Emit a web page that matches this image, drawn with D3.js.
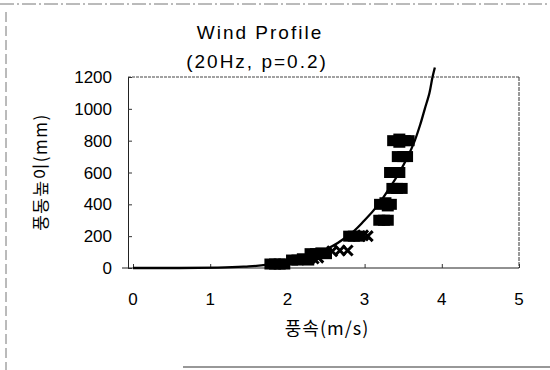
<!DOCTYPE html>
<html>
<head>
<meta charset="utf-8">
<script src="https://cdn.jsdelivr.net/npm/d3@7"></script>
<style>
  body { margin: 0; background: #fff; }
  text { font-family: "Liberation Sans", Arial, sans-serif; fill: #000; }
  .kr { font-family: "Noto Sans CJK KR", "Liberation Sans", sans-serif; }
</style>
</head>
<body>
<svg id="chart" width="550" height="370"></svg>
<script>
// tick values
var xTicks = [0, 1, 2, 3, 4, 5];
var yTicks = [0, 200, 400, 600, 800, 1000, 1200];

// measured points, square markers  [speed m/s, height mm]
var squarePts = [
  [1.78, 25], [1.84, 25], [1.90, 25], [1.96, 25],
  [2.06, 50], [2.13, 50], [2.20, 58], [2.27, 50],
  [2.30, 90], [2.37, 90], [2.44, 95], [2.50, 90],
  [2.80, 200], [2.86, 200], [2.93, 200],
  [3.19, 300], [3.25, 300], [3.30, 300],
  [3.20, 400], [3.27, 410], [3.34, 400], [3.30, 390],
  [3.36, 500], [3.42, 500], [3.48, 500],
  [3.33, 600], [3.39, 600], [3.45, 600],
  [3.43, 700], [3.50, 700], [3.55, 700],
  [3.37, 800], [3.45, 810], [3.52, 800], [3.57, 800], [3.45, 790]
];

// measured points, cross markers
var crossPts = [
  [2.58, 105], [2.68, 110], [2.78, 110],
  [2.98, 205], [3.04, 200],
  [2.34, 60], [2.40, 65]
];

// power law fit line (p=0.2)
var fitU = [0.00, 0.60, 1.10, 1.50, 1.80, 2.10, 2.42, 2.78, 3.00, 3.18, 3.32, 3.45, 3.56, 3.65, 3.72, 3.78, 3.84, 3.88, 3.91];
var fitZ = [0,    0.1,  2,    10,   25,   50,   100,  200,  300,  400,  500,  600,  700,  800,  900,  1000, 1100, 1200, 1260];

var svg = d3.select("#chart");

var x = d3.scaleLinear().domain([0, 5]).range([133, 519]);
var y = d3.scaleLinear().domain([0, 1200]).range([268, 77]);

// scanned page border
svg.append("line").attr("x1", 0).attr("x2", 550).attr("y1", 4).attr("y2", 4)
    .attr("stroke", "#777").attr("stroke-dasharray", "14,3,2,3");
svg.append("line").attr("x1", 6).attr("x2", 6).attr("y1", 12).attr("y2", 370)
    .attr("stroke", "#777").attr("stroke-dasharray", "10,4");
svg.append("line").attr("x1", 183).attr("x2", 550).attr("y1", 367).attr("y2", 367)
    .attr("stroke", "#333").attr("stroke-width", 1.2);

// plot frame
svg.append("line").attr("x1", 128).attr("x2", 519).attr("y1", 77).attr("y2", 77)
    .attr("stroke", "#444").attr("stroke-dasharray", "3,1");
svg.append("line").attr("x1", 519).attr("x2", 519).attr("y1", 77).attr("y2", 268)
    .attr("stroke", "#333").attr("stroke-dasharray", "4,1");

// y axis
var yAxis = svg.append("g").attr("transform", "translate(128,0)")
    .call(d3.axisRight(y).tickValues(yTicks).tickSize(4).tickFormat(""));
yAxis.select(".domain").attr("stroke", "#222");
yAxis.selectAll(".tick line").attr("stroke", "#333");

svg.selectAll(".ylab").data(yTicks).enter().append("text")
    .attr("class", "ylab")
    .attr("x", 112).attr("y", function (d) { return y(d) + 6; })
    .attr("text-anchor", "end").attr("font-size", 17)
    .text(function (d) { return d; });

// x axis
var xAxis = svg.append("g").attr("transform", "translate(0,268)")
    .call(d3.axisTop(x).tickValues(xTicks).tickSize(4).tickFormat(""));
xAxis.select(".domain").attr("stroke", "#222").attr("d", "M122,0H519");
xAxis.selectAll(".tick line").attr("stroke", "#333");

svg.selectAll(".xlab").data(xTicks).enter().append("text")
    .attr("class", "xlab")
    .attr("x", function (d) { return x(d); }).attr("y", 305)
    .attr("text-anchor", "middle").attr("font-size", 17)
    .text(function (d) { return d; });

// titles
svg.append("text").attr("x", 260).attr("y", 39)
    .attr("text-anchor", "middle").attr("font-size", 19).attr("letter-spacing", 2)
    .text("Wind  Profile");
svg.append("text").attr("x", 257).attr("y", 68)
    .attr("text-anchor", "middle").attr("font-size", 19).attr("letter-spacing", 2)
    .text("(20Hz, p=0.2)");

svg.append("text").attr("class", "kr").attr("x", 327).attr("y", 335)
    .attr("text-anchor", "middle").attr("font-size", 18).attr("letter-spacing", 1)
    .text("풍속(m/s)");

svg.append("text").attr("class", "kr")
    .attr("transform", "translate(47,172) rotate(-90)")
    .attr("text-anchor", "middle").attr("font-size", 17).attr("letter-spacing", 1.5)
    .text("풍동높이(mm)");

// fit curve
var fitLine = d3.line()
    .x(function (d, i) { return x(fitU[i]); })
    .y(function (d, i) { return y(fitZ[i]); })
    .curve(d3.curveMonotoneY);

svg.append("path").datum(fitZ)
    .attr("d", fitLine)
    .attr("fill", "none").attr("stroke", "#000").attr("stroke-width", 2.3);

// square markers
svg.selectAll(".sq").data(squarePts).enter().append("rect")
    .attr("class", "sq")
    .attr("x", function (d) { return x(d[0]) - 6; })
    .attr("y", function (d) { return y(d[1]) - 5.5; })
    .attr("width", 12).attr("height", 11)
    .attr("fill", "#000");

// cross markers
svg.selectAll(".cr").data(crossPts).enter().append("path")
    .attr("class", "cr")
    .attr("d", function (d) {
        var cx = x(d[0]), cy = y(d[1]), r = 5;
        return "M" + (cx - r) + "," + (cy - r) + "L" + (cx + r) + "," + (cy + r) +
               "M" + (cx - r) + "," + (cy + r) + "L" + (cx + r) + "," + (cy - r);
    })
    .attr("stroke", "#000").attr("stroke-width", 3);
</script>
</body>
</html>
